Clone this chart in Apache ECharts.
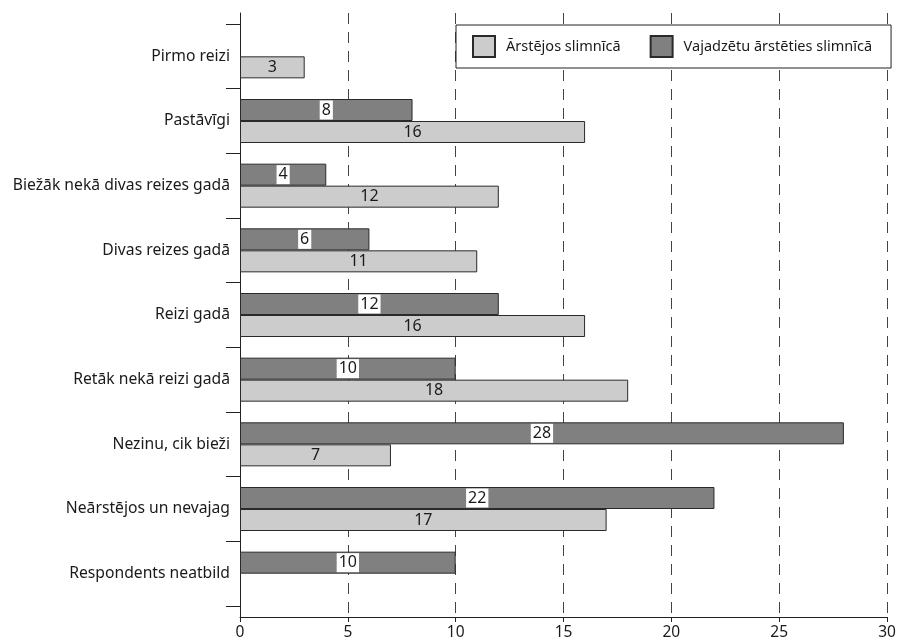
<!DOCTYPE html>
<html>
<head>
<meta charset="utf-8">
<script src="https://cdn.jsdelivr.net/npm/echarts@6/dist/echarts.min.js"></script>
<style>
  html, body { margin: 0; padding: 0; background: #fff; }
  #chart { width: 899px; height: 644px; }
</style>
</head>
<body>
<div id="chart"></div>
<script>
const categories = [
  'Pirmo reizi',
  'Pastāvīgi',
  'Biežāk nekā divas reizes gadā',
  'Divas reizes gadā',
  'Reizi gadā',
  'Retāk nekā reizi gadā',
  'Nezinu, cik bieži',
  'Neārstējos un nevajag',
  'Respondents neatbild'
];
const seriesNames = ['Ārstējos slimnīcā', 'Vajadzētu ārstēties slimnīcā'];
const treatedValues = [3, 16, 12, 11, 16, 18, 7, 17, null];
const shouldValues = [null, 8, 4, 6, 12, 10, 28, 22, 10];
const xTicks = { min: 0, max: 30, interval: 5 };

const FONT = 'Noto Sans';
const TEXT = '#1a1a1a';

const chart = echarts.init(document.getElementById('chart'), null, { renderer: 'canvas' });

chart.setOption({
  animation: false,
  backgroundColor: '#fff',
  textStyle: { fontFamily: FONT, color: TEXT },
  legend: {
    data: seriesNames,
    left: 456,
    top: 25,
    orient: 'horizontal',
    itemWidth: 22,
    itemHeight: 21,
    itemGap: 29,
    padding: [10, 19, 10, 16],
    borderColor: '#222',
    borderWidth: 1,
    backgroundColor: '#fff',
    icon: 'rect',
    z: 10,
    textStyle: { fontFamily: FONT, fontSize: 14.5, color: TEXT, padding: [0, 0, 0, 6] }
  },
  grid: [
    { left: 240, right: 12, top: 24, bottom: 38 },
    { left: 240, right: 12, top: 13, bottom: 27 }
  ],
  xAxis: [
    {
      type: 'value', gridIndex: 0,
      min: xTicks.min, max: xTicks.max, interval: xTicks.interval,
      show: false
    },
    {
      type: 'value', gridIndex: 1,
      min: xTicks.min, max: xTicks.max, interval: xTicks.interval,
      axisLine: { show: true, lineStyle: { color: '#222', width: 1 } },
      axisTick: { show: true, length: 5, lineStyle: { color: '#222' } },
      axisLabel: { fontFamily: FONT, fontSize: 15.5, color: TEXT, margin: 8 },
      splitLine: { show: true, lineStyle: { color: '#444', width: 1, type: [11, 8] } }
    }
  ],
  yAxis: [
    {
      type: 'category', gridIndex: 0,
      data: categories,
      inverse: true,
      axisLine: { show: false },
      axisTick: { show: true, length: 14, lineStyle: { color: '#222' } },
      axisLabel: { fontFamily: FONT, fontSize: 15.7, color: TEXT, margin: 10 },
      splitLine: { show: false }
    },
    {
      type: 'value', gridIndex: 1,
      min: 0, max: 1,
      axisLine: { show: true, lineStyle: { color: '#222', width: 1 } },
      axisTick: { show: false },
      axisLabel: { show: false },
      splitLine: { show: false }
    }
  ],
  series: [
    {
      name: seriesNames[1],
      type: 'bar',
      xAxisIndex: 0, yAxisIndex: 0,
      data: shouldValues,
      barWidth: 22,
      barGap: '0%',
      itemStyle: { color: '#808080', borderColor: '#2a2a2a', borderWidth: 1 },
      label: {
        show: true, position: 'inside',
        fontFamily: FONT, fontSize: 16, color: TEXT,
        backgroundColor: '#fff', padding: [2, 2, 1, 2]
      },
      z: 3
    },
    {
      name: seriesNames[0],
      type: 'bar',
      xAxisIndex: 0, yAxisIndex: 0,
      data: treatedValues,
      barWidth: 22,
      barGap: '0%',
      itemStyle: { color: '#cccccc', borderColor: '#2a2a2a', borderWidth: 1 },
      label: {
        show: true, position: 'inside',
        fontFamily: FONT, fontSize: 16, color: TEXT
      },
      z: 3
    }
  ]
});
</script>
</body>
</html>
